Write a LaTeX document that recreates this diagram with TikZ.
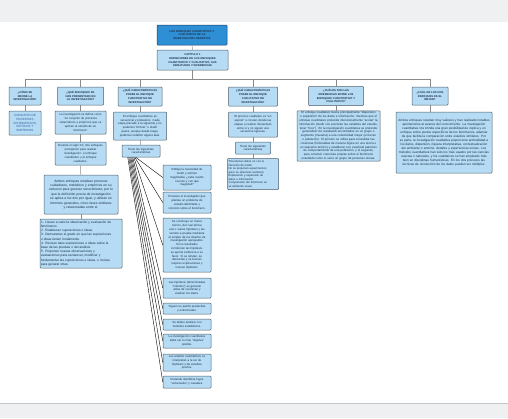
\documentclass[tikz,border=0pt]{standalone}
\usepackage{fontspec}
\setmainfont{Liberation Sans}
\usetikzlibrary{calc}

\definecolor{boxfill}{HTML}{B5DCF4}
\definecolor{boxline}{HTML}{4F5D6B}
\definecolor{titlefill}{HTML}{2E8FD5}
\definecolor{titleline}{HTML}{1C3F66}
\definecolor{inktext}{HTML}{1B2A44}
\definecolor{setblue}{HTML}{2F5C9A}
\definecolor{linkgray}{HTML}{8A8A8A}
\definecolor{bandgray}{HTML}{EFF0F2}

\begin{document}
\begin{tikzpicture}[
    x=1pt, y=-1pt,
    box/.style={rectangle, draw=boxline, line width=0.5pt, rounded corners=0.8pt, fill=boxfill, text=inktext, align=center, inner sep=1pt, font=\fontsize{2.9}{3.8}\selectfont},
    headbox/.style={box, font=\fontsize{2.7}{3.8}\selectfont\bfseries},
    titlebox/.style={headbox, fill=titlefill, draw=titleline},
    listbox/.style={box, align=left},
    every edge/.style={draw=linkgray, line width=0.5pt},
    fanline/.style={draw=black, line width=0.4pt}
]

\useasboundingbox (0,0) rectangle (508,418);
\fill[bandgray] (0,0) rectangle (508,22);
\fill[bandgray] (0,404) rectangle (508,418);
\draw[gray!45, line width=1pt] (0,403.5) -- (508,403.5);

\node[titlebox, text width=68pt, minimum height=20pt] (title) at (192,35) {LOS ENFOQUES CUANTITATIVO Y\\ CUALITATIVO DE LA\\ INVESTIGACIÓN CIENTÍFICA};
\node[headbox, text width=69pt, minimum height=20pt] (cap) at (192.5,60) {CAPÍTULO 1\\ DEFINICIONES DE LOS ENFOQUES\\ CUANTITATIVO Y CUALITATIVO, SUS\\ SIMILITUDES Y DIFERENCIAS};

\coordinate (bus1) at (25,79);
\coordinate (bus2) at (80.5,79);
\coordinate (bus3) at (140,79);
\coordinate (busc) at (192.5,79);
\coordinate (bus4) at (253,79);
\coordinate (bus5) at (336,79);
\coordinate (bus6) at (430,79);

% column 1
\node[headbox, text width=30pt, minimum height=18pt] (how) at (25,96) {¿CÓMO SE\\ DEFINE LA\\ INVESTIGACIÓN?};
\node[box, text width=30pt, minimum height=24pt, text=setblue, font=\fontsize{3}{3.9}\selectfont] (set) at (25,123) {CONJUNTO DE\\ PROCESOS\\ SISTEMÁTICOS,\\ CRÍTICOS Y\\ EMPÍRICOS};

% column 2
\node[headbox, text width=44pt, minimum height=18pt] (kinds) at (80.5,96) {¿QUÉ ENFOQUES SE\\ HAN PRESENTADO EN\\ LA INVESTIGACIÓN?};
\node[box, text width=49pt, minimum height=23pt] (def) at (80.5,122.5) {La investigación se define como\\ “un conjunto de procesos\\ sistemáticos y empíricos que se\\ aplican al estudio de un\\ fenómeno”};
\node[box, text width=49pt, minimum height=23pt] (two) at (80.5,153.5) {Durante el siglo XX, dos enfoques\\ emergieron para realizar\\ investigación: el enfoque\\ cuantitativo y el enfoque\\ cualitativo.};
\node[box, text width=72pt, minimum height=39pt, font=\fontsize{3.3}{4.4}\selectfont] (both) at (81,194.5) {Ambos enfoques emplean procesos\\ cuidadosos, metódicos y empíricos en su\\ esfuerzo para generar conocimiento, por lo\\ que la definición previa de investigación\\ se aplica a los dos por igual, y utilizan en\\ términos generales, cinco fases similares\\ y relacionadas entre sí:};
\node[listbox, text width=80pt, minimum height=49pt, font=\fontsize{3.2}{4.2}\selectfont] (phases) at (81,243.5) {1. Llevan a cabo la observación y evaluación de\\ fenómenos.\\ 2. Establecen suposiciones o ideas.\\ 3. Demuestran el grado en que las suposiciones\\ o ideas tienen fundamento.\\ 4. Revisan tales suposiciones o ideas sobre la\\ base de las pruebas o del análisis.\\ 5. Proponen nuevas observaciones y\\ evaluaciones para esclarecer, modificar y\\ fundamentar las suposiciones e ideas, o incluso\\ para generar otras.};

% column 3
\node[headbox, text width=42pt, minimum height=19pt] (quan) at (140,96.5) {¿QUÉ CARACTERÍSTICAS\\ POSEE EL ENFOQUE\\ CUANTITATIVO DE\\ INVESTIGACIÓN?};
\node[box, text width=51pt, minimum height=28pt] (seq) at (140,126) {El enfoque cuantitativo es\\ secuencial y probatorio. Cada\\ etapa precede a la siguiente y no\\ podemos “brincar” o eludir\\ pasos, aunque desde luego,\\ podemos redefinir alguna fase.};
\node[box, text width=36pt, minimum height=12pt] (feat) at (141,151) {Tiene las siguientes\\ características};

\node[box, text width=46pt, minimum height=25pt] (measure) at (187,177.5) {Refleja la necesidad de\\ medir y estimar\\ magnitudes ¿cada cuánto\\ ocurren y con qué\\ magnitud?};
\node[box, text width=46pt, minimum height=21pt] (problem) at (187,202.5) {Proviene el investigador que\\ plantea un problema de\\ estudio delimitado y\\ concreto sobre el fenómeno.};
\node[box, text width=46pt, minimum height=54pt] (theory) at (187,245) {Se construye un marco\\ teórico, del cual deriva\\ una o varias hipótesis y las\\ somete a prueba mediante\\ el empleo de los diseños de\\ investigación apropiados.\\ Si los resultados\\ corroboran las hipótesis,\\ se aporta evidencia a su\\ favor. Si se refutan, se\\ descartan y se buscan\\ mejores explicaciones y\\ nuevas hipótesis.};
\node[box, text width=46pt, minimum height=20pt] (hypo) at (187,288) {Las hipótesis (denominadas\\ “intentos”) se generan\\ antes de recolectar y\\ analizar los datos.};
\node[box, text width=46pt, minimum height=11pt] (pattern) at (187,308.5) {Siguen un patrón predecible\\ y estructurado.};
\node[box, text width=46pt, minimum height=11pt] (stats) at (187,324.5) {Se deben analizar con\\ métodos estadísticos.};
\node[box, text width=46pt, minimum height=14pt] (objective) at (187,341) {La investigación cuantitativa\\ debe ser lo más “objetiva”\\ posible.};
\node[box, text width=46pt, minimum height=17pt] (analysis) at (187,362.5) {Los análisis cuantitativos se\\ interpretan a la luz de\\ hipótesis y de estudios\\ previos.};
\node[box, text width=46pt, minimum height=12pt] (laws) at (187,382) {Pretende identificar leyes\\ “universales” y causales.};

% column 4
\node[headbox, text width=47pt, minimum height=19pt] (qual) at (253,96.5) {¿QUÉ CARACTERÍSTICAS\\ POSEE EL ENFOQUE\\ CUALITATIVO DE\\ INVESTIGACIÓN?};
\node[box, text width=47pt, minimum height=25pt] (spiral) at (253,124.5) {El proceso cualitativo es “en\\ espiral” o circular, donde las\\ etapas a realizar interactúan\\ entre sí y no siguen una\\ secuencia rigurosa.};
\node[box, text width=33pt, minimum height=12pt] (feat2) at (253,148) {Tiene las siguientes\\ características};
\node[listbox, text width=49pt, minimum height=31pt, font=\fontsize{2.8}{3.55}\selectfont] (traits) at (253,174) {*Recolectan datos no con la\\ intención de medir.\\ *No se proponen experimentos\\ (pero se observan cambios).\\ *Exploración y expansión de\\ datos e información.\\ *Comprensión del fenómeno en\\ su ambiente usual.};

% column 5
\node[headbox, text width=53pt, minimum height=19pt] (diff) at (336,96) {¿CUÁLES SON LAS\\ DIFERENCIAS ENTRE LOS\\ ENFOQUES CUANTITATIVO Y\\ CUALITATIVO?};
\node[box, text width=81pt, minimum height=48pt, font=\fontsize{3}{3.8}\selectfont] (contrast) at (338.5,136) {El enfoque cualitativo busca principalmente “dispersión o expansión” de los datos e información, mientras que el enfoque cuantitativo pretende intencionalmente “acotar” la información (medir con precisión las variables del estudio, tener “foco”). En la investigación cuantitativa se pretende generalizar los resultados encontrados en un grupo o segmento (muestra) a una colectividad mayor (universo o población). El primero se utiliza para consolidar las creencias (formuladas de manera lógica en una teoría o un esquema teórico) y establecer con exactitud patrones de comportamiento de una población; y el segundo, para construir creencias propias sobre el fenómeno estudiado como lo sería un grupo de personas únicas.};

% column 6
\node[headbox, text width=34pt, minimum height=18pt] (best) at (430,96) {¿CUÁL DE LOS DOS\\ ENFOQUES ES EL\\ MEJOR?};
\node[box, text width=94pt, minimum height=61pt, font=\fontsize{3.15}{4}\selectfont] (verdict) at (444,142.5) {Ambos enfoques resultan muy valiosos y han realizado notables aportaciones al avance del conocimiento. La investigación cuantitativa nos brinda una gran posibilidad de réplica y un enfoque sobre puntos específicos de los fenómenos, además de que facilita la comparación entre estudios similares. Por su parte, la investigación cualitativa proporciona profundidad a los datos, dispersión, riqueza interpretativa, contextualización del ambiente o entorno, detalles y experiencias únicas. Los métodos cuantitativos han sido los más usados por las ciencias exactas o naturales, y los cualitativos se han empleado más bien en disciplinas humanísticas. En los dos procesos las técnicas de recolección de los datos pueden ser múltiples.};

% links
\path (title) edge (cap);
\path (cap) edge (busc);
\draw[linkgray, line width=0.5pt] (bus1) -- (bus6);
\path (bus1) edge (how);
\path (bus2) edge (kinds);
\path (bus3) edge (quan);
\path (bus4) edge (qual);
\path (bus5) edge (diff);
\path (bus6) edge (best);

\path (how) edge (set);
\path (kinds) edge (def);
\path (def) edge (two);
\path (two) edge (both);
\path (both) edge (phases);
\path (quan) edge (seq);
\path (seq) edge (feat);
\path (qual) edge (spiral);
\path (spiral) edge (feat2);
\path (feat2) edge (traits);
\path (diff) edge (diff |- contrast.north);
\path (best) edge (best |- verdict.north);

\draw[fanline] ([xshift=14pt]feat.south west) -- (measure.west);
\draw[fanline] ([xshift=13pt]feat.south west) -- (problem.west);
\draw[fanline] ([xshift=12pt]feat.south west) -- (theory.west);
\draw[fanline] ([xshift=11pt]feat.south west) -- (hypo.west);
\draw[fanline] ([xshift=10pt]feat.south west) -- (pattern.west);
\draw[fanline] ([xshift=9pt]feat.south west) -- (stats.west);
\draw[fanline] ([xshift=8pt]feat.south west) -- (objective.west);
\draw[fanline] ([xshift=7pt]feat.south west) -- (analysis.west);
\draw[fanline] ([xshift=6pt]feat.south west) -- (laws.west);

\end{tikzpicture}
\end{document}
